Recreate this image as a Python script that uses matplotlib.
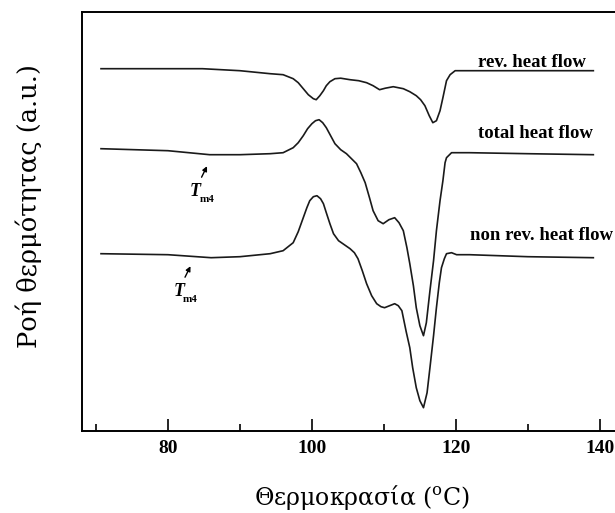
import numpy as np
import matplotlib
matplotlib.use("Agg")
import matplotlib.pyplot as plt

plt.rcParams["mathtext.fontset"] = "dejavuserif"

# temperature (C) / heat flow (a.u.)
rev_T = [70.7, 80, 84.8, 90, 94.2, 96.0, 97.4, 98.1, 98.8, 99.5, 100.2, 100.6, 101.1,
         101.6, 102.0, 102.5, 103.2, 104.0, 105.3, 106.5, 107.6, 108.5, 109.4, 110.2,
         111.3, 112.7, 113.6, 114.5, 115.1, 115.7, 116.3, 116.8, 117.3, 117.8, 118.2,
         118.7, 119.2, 119.9, 121.9, 130, 139.1]
rev_hf = [3.62, 3.62, 3.62, 3.60, 3.57, 3.56, 3.52, 3.48, 3.42, 3.36, 3.32, 3.31, 3.35,
          3.40, 3.45, 3.49, 3.52, 3.525, 3.51, 3.50, 3.48, 3.45, 3.41, 3.425,
          3.44, 3.42, 3.39, 3.35, 3.31, 3.25, 3.15, 3.08, 3.10, 3.20, 3.33,
          3.50, 3.56, 3.60, 3.60, 3.60, 3.60]

tot_T = [70.7, 80, 85.8, 90, 94.2, 96.0, 97.4, 98.1, 98.8, 99.4, 100.0, 100.5, 101.0,
         101.5, 102.0, 102.6, 103.2, 104.0, 104.8, 105.5, 106.2, 106.8, 107.4, 108.0,
         108.5, 109.2, 109.9, 110.7, 111.5, 112.1, 112.7, 113.2, 113.6, 114.1, 114.5,
         115.0, 115.5, 115.9, 116.4, 116.9, 117.3, 117.8, 118.2, 118.5, 118.7, 119.4,
         121.9, 130, 139.1]
tot_hf = [2.82, 2.80, 2.76, 2.76, 2.77, 2.78, 2.83, 2.88, 2.95, 3.02, 3.07, 3.10, 3.11,
          3.08, 3.03, 2.95, 2.87, 2.81, 2.77, 2.72, 2.67, 2.58, 2.48, 2.33,
          2.20, 2.10, 2.07, 2.11, 2.13, 2.08, 2.00, 1.83, 1.67, 1.45, 1.23,
          1.05, 0.95, 1.08, 1.40, 1.70, 2.00, 2.30, 2.50, 2.68, 2.73, 2.78,
          2.78, 2.77, 2.76]

nrev_T = [70.7, 80, 86, 90, 94.2, 96.0, 97.4, 98.1, 98.8, 99.3, 99.7, 100.2, 100.7,
          101.2, 101.6, 102.0, 102.5, 103.0, 103.7, 104.5, 105.3, 105.9, 106.4, 107.0,
          107.6, 108.3, 109.0, 109.6, 110.1, 110.8, 111.5, 112.0, 112.5, 113.1, 113.6,
          114.0, 114.5, 115.0, 115.5, 116.0, 116.4, 116.9, 117.3, 117.7, 118.0, 118.4,
          118.7, 119.4, 120.1, 121.9, 130, 139.1]
nrev_hf = [1.77, 1.76, 1.73, 1.74, 1.77, 1.80, 1.88, 1.99, 2.13, 2.23, 2.30, 2.34, 2.35,
           2.32, 2.27, 2.18, 2.07, 1.97, 1.90, 1.86, 1.82, 1.78, 1.72, 1.60,
           1.47, 1.35, 1.27, 1.24, 1.23, 1.25, 1.27, 1.25, 1.20, 0.99, 0.83,
           0.63, 0.43, 0.30, 0.23, 0.38, 0.63, 0.95, 1.23, 1.48, 1.63, 1.72,
           1.77, 1.78, 1.76, 1.76, 1.74, 1.73]

curve_labels = ["rev. heat flow", "total heat flow", "non rev. heat flow"]
label_pos = [(130.6, 3.68), (131.0, 2.97), (131.9, 1.95)]
tm4_tips = [(85.6, 2.67), (83.3, 1.67)]

fig = plt.figure(figsize=(6.15, 5.13), dpi=100)
ax = fig.add_axes([82.3 / 615, 82.3 / 513, 560.7 / 615, 418.7 / 513])

for T, hf in [(rev_T, rev_hf), (tot_T, tot_hf), (nrev_T, nrev_hf)]:
    ax.plot(T, hf, color="#1a1a1a", linewidth=1.2, solid_joinstyle="round")

for lab, (x, y) in zip(curve_labels, label_pos):
    ax.text(x, y, lab, ha="center", va="center", fontsize=13.5,
            fontweight="bold", family="Liberation Serif")

for (x, y) in tm4_tips:
    ax.annotate("", xy=(x, y), xytext=(x - 1.1, y - 0.16),
                arrowprops=dict(arrowstyle="-|>", color="black", lw=1.0,
                                mutation_scale=7))
    ax.text(x - 1.8, y - 0.28, "T", ha="center", va="center", fontsize=13,
            fontweight="bold", style="italic", family="Liberation Serif")
    ax.text(x - 1.25, y - 0.36, "m4", ha="left", va="center", fontsize=8,
            fontweight="bold", family="Liberation Serif")

ax.set_xlim(68.1, 146)
ax.set_ylim(0.0, 4.187)
ax.set_xticks([80, 100, 120, 140])
ax.set_xticks([70, 90, 110, 130], minor=True)
ax.set_yticks([])
ax.tick_params(axis="x", which="major", direction="in", length=9, width=1.2, pad=7)
ax.tick_params(axis="x", which="minor", direction="in", length=5, width=1.2)
for lab in ax.get_xticklabels():
    lab.set_fontfamily("Liberation Serif")
    lab.set_fontweight("bold")
    lab.set_fontsize(14)
for s in ax.spines.values():
    s.set_linewidth(1.4)

ax.set_xlabel("Θερμοκρασία ($^{\\rm o}$C)", fontsize=17, family="DejaVu Serif")
ax.xaxis.set_label_coords(0.498, -0.125)
ax.set_ylabel("Ροή θερμότητας (a.u.)", fontsize=18.5, family="DejaVu Serif")
ax.yaxis.set_label_coords(-0.072, 0.537)

fig.savefig("out.png", dpi=100)
